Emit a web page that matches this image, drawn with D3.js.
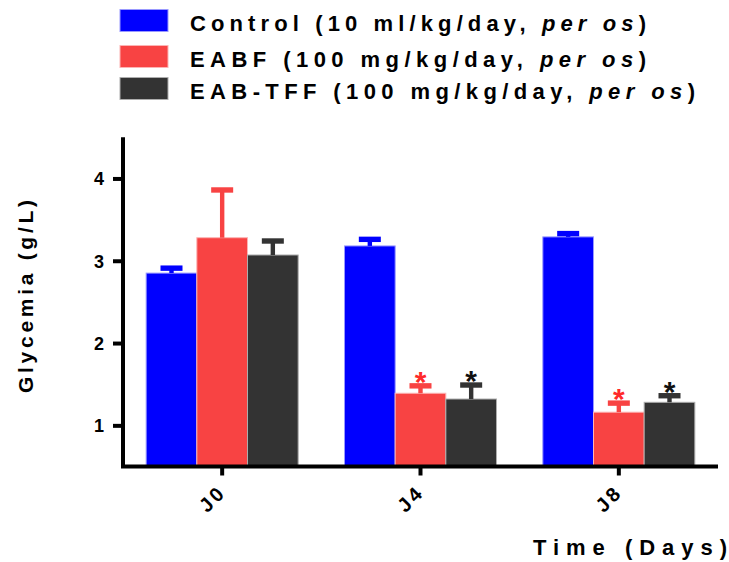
<!DOCTYPE html>
<html>
<head>
<meta charset="utf-8">
<script src="https://cdn.jsdelivr.net/npm/d3@7"></script>
<style>
  body { margin: 0; background: #fff; }
  text { font-family: Arial, "Liberation Sans", sans-serif; font-weight: bold; }
</style>
</head>
<body>
<div id="chart"></div>
<script>
var days = ["J0", "J4", "J8"];
var groups = ["Control", "EABF", "EAB-TFF"];
var legendLabels = [
    ["Control (10 ml/kg/day, ", "per os", ")"],
    ["EABF (100 mg/kg/day, ", "per os", ")"],
    ["EAB-TFF (100 mg/kg/day, ", "per os", ")"]
];
var colors = ["#0000ff", "#f84343", "#333333"];
var starColors = ["#000000", "#ff2a2a", "#111111"];

// mean glycemia (g/L), one array per group, in the order of days
var meanControl = [2.85, 3.18, 3.29];
var meanEABF = [3.28, 1.39, 1.16];
var meanTFF = [3.07, 1.32, 1.28];
// SEM
var semControl = [0.06, 0.08, 0.04];
var semEABF = [0.58, 0.09, 0.11];
var semTFF = [0.17, 0.17, 0.08];
// significance stars (day, group)
var stars = [["J4", "EABF"], ["J4", "EAB-TFF"], ["J8", "EABF"], ["J8", "EAB-TFF"]];
var yTicks = [1, 2, 3, 4];

var means = [meanControl, meanEABF, meanTFF];
var sems = [semControl, semEABF, semTFF];

var data = [];
days.forEach(function (d, i) {
    groups.forEach(function (g, j) {
        data.push({ day: d, group: g, gi: j, value: means[j][i], sem: sems[j][i] });
    });
});

var W = 729, H = 562;
var svg = d3.select("#chart").append("svg")
    .attr("width", W)
    .attr("height", H);

var x0 = d3.scaleBand().domain(days).range([123, 718]).padding(0);
var x1 = d3.scaleBand().domain(groups)
    .range([0, 152]);
var groupOff = (x0.bandwidth() - 152) / 2;
var y = d3.scaleLinear().domain([0.5, 4.5]).range([466.5, 137.3]);

// bars
svg.append("g").selectAll("rect")
    .data(data)
    .enter().append("rect")
    .attr("x", function (d) { return x0(d.day) + groupOff + x1(d.group); })
    .attr("y", function (d) { return y(d.value); })
    .attr("width", x1.bandwidth())
    .attr("height", function (d) { return y(0.5) - y(d.value); })
    .attr("fill", function (d) { return colors[d.gi]; })
    .attr("stroke", function (d) { return d3.interpolateRgb(colors[d.gi], "#fff")(0.6); })
    .attr("stroke-width", 1);

// error bars
var err = svg.append("g").selectAll("g")
    .data(data)
    .enter().append("g");
err.append("rect")
    .attr("x", function (d) { return x0(d.day) + groupOff + x1(d.group) + x1.bandwidth() / 2 - 2.2; })
    .attr("y", function (d) { return y(d.value + d.sem); })
    .attr("width", 4.4)
    .attr("height", function (d) { return y(d.value) - y(d.value + d.sem); })
    .attr("fill", function (d) { return colors[d.gi]; });
err.append("rect")
    .attr("x", function (d) { return x0(d.day) + groupOff + x1(d.group) + x1.bandwidth() / 2 - 11; })
    .attr("y", function (d) { return y(d.value + d.sem) - 2.7; })
    .attr("width", 22)
    .attr("height", 5.4)
    .attr("fill", function (d) { return colors[d.gi]; });

// stars
svg.append("g").selectAll("text")
    .data(stars)
    .enter().append("text")
    .attr("x", function (s) { return x0(s[0]) + groupOff + x1(s[1]) + x1.bandwidth() / 2; })
    .attr("y", function (s) {
        var d = data.find(function (e) { return e.day === s[0] && e.group === s[1]; });
        return y(d.value + d.sem) + 6;
    })
    .attr("text-anchor", "middle")
    .style("font-size", "30px")
    .attr("fill", function (s) { return starColors[groups.indexOf(s[1])]; })
    .text("*");

// axes
var yAxis = svg.append("g")
    .attr("transform", "translate(123,0)")
    .call(d3.axisLeft(y).tickValues(yTicks).tickSize(10).tickPadding(9).tickFormat(d3.format("d")));
var xAxis = svg.append("g")
    .attr("transform", "translate(0,466.5)")
    .call(d3.axisBottom(x0).tickSize(9).tickPadding(4));

[yAxis, xAxis].forEach(function (a) {
    a.select(".domain").attr("stroke", "#000").attr("stroke-width", 4);
    a.selectAll(".tick line").attr("stroke", "#000").attr("stroke-width", 4);
});
yAxis.select(".domain").attr("d", "M0,466.5V137.3");
xAxis.select(".domain").attr("d", "M121,0H718");
yAxis.selectAll(".tick text")
    .style("font-size", "18px")
    .attr("dy", "0.36em")
    .attr("fill", "#000");
xAxis.selectAll(".tick text")
    .style("font-size", "20px")
    .style("letter-spacing", "3px")
    .attr("fill", "#000")
    .attr("text-anchor", "end")
    .attr("dy", null)
    .attr("y", null)
    .attr("transform", "translate(5,27) rotate(-45)");

// axis titles
svg.append("text")
    .attr("transform", "translate(33,296.5) rotate(-90)")
    .attr("text-anchor", "middle")
    .attr("textLength", 193)
    .attr("lengthAdjust", "spacing")
    .style("font-size", "21px")
    .text("Glycemia (g/L)");

svg.append("text")
    .attr("x", 533)
    .attr("y", 555)
    .attr("textLength", 194)
    .attr("lengthAdjust", "spacing")
    .style("font-size", "22px")
    .text("Time (Days)");

// legend
var legendEnds = [646, 646, 695];
var leg = svg.append("g").selectAll("g")
    .data(groups)
    .enter().append("g")
    .attr("transform", function (d, i) { return "translate(0," + [0, 36, 68][i] + ")"; });
leg.append("rect")
    .attr("x", 120)
    .attr("y", 9.5)
    .attr("width", 48)
    .attr("height", 22)
    .attr("fill", function (d, i) { return colors[i]; })
    .attr("stroke", function (d, i) { return d3.interpolateRgb(colors[i], "#fff")(0.6); })
    .attr("stroke-width", 1);
var lt = leg.append("text")
    .attr("x", 190)
    .attr("y", 31)
    .attr("textLength", function (d, i) { return legendEnds[i] - 190; })
    .attr("lengthAdjust", "spacing")
    .style("font-size", "22px");
lt.append("tspan").text(function (d, i) { return legendLabels[i][0]; });
lt.append("tspan").style("font-style", "italic").text(function (d, i) { return legendLabels[i][1]; });
lt.append("tspan").text(function (d, i) { return legendLabels[i][2]; });
</script>
</body>
</html>
